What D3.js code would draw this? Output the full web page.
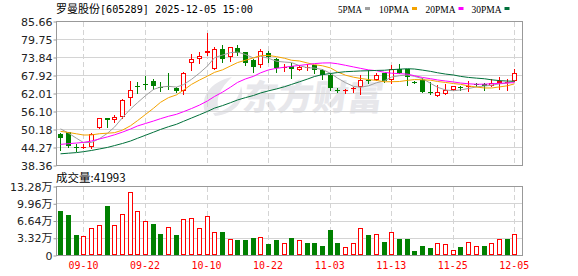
<!DOCTYPE html>
<html lang="zh-CN">
<head>
<meta charset="UTF-8">
<title>罗曼股份[605289] 日K</title>
<script src="https://d3js.org/d3.v7.min.js"></script>
<style>
  html, body { margin: 0; padding: 0; background: #fff; }
  svg { display: block; }
  .axis path { display: none; }
  .axis line { stroke: #999; }
  .axis text { font-family: "DejaVu Sans", "Noto Sans CJK SC", sans-serif; font-size: 11px; fill: #222; }
</style>
</head>
<body>
<script>
// trading days shown (MM-DD)
const dates = ["09-05","09-08","09-09","09-10","09-11","09-12","09-15","09-16","09-17","09-18",
  "09-19","09-22","09-23","09-24","09-25","09-26","09-29","09-30","10-09","10-10",
  "10-13","10-14","10-15","10-16","10-17","10-20","10-21","10-22","10-23","10-24",
  "10-27","10-28","10-29","10-30","10-31","11-03","11-04","11-05","11-06","11-07",
  "11-10","11-11","11-12","11-13","11-14","11-17","11-18","11-19","11-20","11-21",
  "11-24","11-25","11-26","11-27","11-28","12-01","12-02","12-03","12-04","12-05"];

const opens = [48.8,49.3,44.6,44.3,44.4,50.8,53.8,53.4,54.2,60.4,
  64.4,65.1,66.0,64.3,64.6,63.9,62.8,71.9,73.3,75.2,
  70.2,76.5,74.1,77.1,75.5,73.0,71.3,75.4,73.3,70.4,
  71.2,69.8,70.5,71.3,69.8,68.2,63.2,62.8,63.5,64.2,
  66.5,66.6,68.6,66.4,70.0,69.9,65.9,66.6,62.5,61.3,
  62.0,63.1,64.0,64.2,65.2,65.0,64.6,65.3,65.4,66.2];
const highs = [49.0,49.5,45.5,45.3,49.0,53.9,53.9,55.1,60.3,66.0,
  65.8,67.6,66.7,65.8,68.9,64.2,69.0,74.9,75.7,82.0,
  77.4,77.9,77.4,77.9,75.6,73.2,76.6,76.0,73.7,71.6,
  71.9,71.5,71.6,71.4,70.0,68.6,63.7,63.6,64.1,68.0,
  69.7,68.6,68.7,71.3,71.7,70.0,66.2,67.0,65.8,64.7,
  65.0,64.6,64.4,66.1,65.6,65.6,66.9,67.5,66.9,69.9];
const lows = [43.5,44.5,43.0,44.2,44.2,50.7,51.0,52.6,54.0,58.1,
  62.3,63.5,63.6,62.8,63.4,62.4,61.7,69.7,71.9,74.6,
  70.2,72.4,72.7,74.6,71.5,69.1,70.8,72.4,69.1,69.4,
  67.0,69.6,69.7,68.6,66.9,63.1,62.6,62.3,62.6,62.0,
  65.3,66.4,65.8,65.3,68.7,64.7,65.3,62.4,62.0,61.2,
  61.9,63.0,63.3,62.8,64.4,63.3,64.5,63.6,63.0,66.1];
const closes = [47.4,44.7,44.2,44.5,48.8,53.8,53.4,54.4,60.0,63.0,
  64.2,64.9,64.6,64.0,64.2,62.9,68.9,73.3,74.3,75.9,
  76.5,73.2,77.3,75.2,71.9,70.8,76.0,74.0,70.3,70.6,
  70.0,70.8,70.7,69.7,68.2,63.8,63.0,63.1,63.7,66.6,
  66.3,68.0,66.2,69.9,68.9,67.5,65.7,62.5,62.2,62.4,
  63.1,64.4,63.8,64.6,65.0,64.6,65.6,66.1,65.9,68.8];

// 成交量 (股)
const volumes = [86600,77000,40400,37900,53300,59000,96200,59000,80200,122500,
  86000,66700,59700,42300,55200,40400,70600,72500,53300,76400,
  45600,44300,32100,28900,30200,34000,36000,21200,28900,23100,
  34600,28900,23700,25000,19200,50000,23100,16700,23100,53300,
  40400,42300,25600,45600,32700,30800,9600,19200,13500,25000,
  21200,11500,15400,26900,19200,19200,25000,30800,32700,41993];

// moving averages as drawn
const ma5 = [50.4,49.0,47.3,45.9,45.92,47.2,48.94,50.98,54.08,56.92,
  59.0,61.3,63.34,64.14,64.38,64.12,64.92,66.66,68.72,71.06,
  73.78,74.64,75.44,75.62,74.82,73.68,74.24,73.58,72.6,72.34,
  72.18,71.14,70.48,70.36,69.88,68.64,67.08,65.56,64.36,64.04,
  64.54,65.54,66.16,67.4,67.86,68.1,67.64,66.9,65.36,64.06,
  63.18,62.92,63.18,63.66,64.18,64.48,64.72,65.18,65.44,66.2];
const ma10 = [49.58,49.2,48.77,48.37,48.4,48.8,48.97,49.14,49.99,51.42,
  53.1,55.12,57.16,59.11,60.65,61.56,63.11,65.0,66.43,67.72,
  68.95,69.78,71.05,72.17,72.94,73.73,74.44,74.51,74.11,73.58,
  72.93,72.69,72.03,71.48,71.11,70.41,69.11,68.02,67.36,66.96,
  66.59,66.31,65.86,65.88,65.95,66.32,66.59,66.53,66.38,65.96,
  65.64,65.28,65.04,64.51,64.12,63.83,63.82,64.18,64.55,65.19];
const ma20 = [45.3,45.53,45.74,45.96,46.4,47.09,47.76,48.43,49.33,50.33,
  51.34,52.16,52.97,53.74,54.53,55.18,56.04,57.07,58.21,59.57,
  61.03,62.45,64.1,65.64,66.8,67.65,68.78,69.76,70.27,70.65,
  70.94,71.24,71.54,71.83,72.03,72.07,71.78,71.27,70.74,70.27,
  69.76,69.5,68.95,68.68,68.53,68.37,67.85,67.28,66.87,66.46,
  66.12,65.8,65.45,65.2,65.04,65.08,65.2,65.36,65.47,65.58];
const ma30 = [42.2,42.4,42.6,42.9,43.3,43.8,44.3,44.9,45.6,46.4,
  47.3,48.3,49.3,50.2,51.1,51.9,52.87,53.95,55.03,56.13,
  57.21,58.03,58.99,59.88,60.66,61.36,62.17,62.88,63.51,64.24,
  64.99,65.86,66.75,67.59,68.23,68.57,68.89,69.18,69.3,69.42,
  69.49,69.59,69.65,69.84,70.0,70.15,70.05,69.69,69.28,68.83,
  68.39,68.09,67.64,67.29,67.06,66.85,66.51,66.24,66.1,66.04];

const priceTicks = [38.36,44.27,50.18,56.10,62.01,67.92,73.84,79.75,85.66];
const volumeTicks = [0,33200,66400,99600,132800];
const dateTicks = ["09-10","09-22","10-10","10-22","11-03","11-13","11-25","12-05"];

const maNames = ["5PMA","10PMA","20PMA","30PMA"];
const maColors = ["#a0a0a0","#f4a300","#ff00ff","#00703a"];

const RED = "#ff0000", GREEN = "#008000", GRID = "#d4d4d4", BORDER = "#999";
const width = 578, height = 276;
const plot = { left: 56.5, right: 522.5, top: 21.5, bottom: 165.5, volTop: 186.5, volBottom: 255.5 };

const svg = d3.select("body").append("svg")
  .attr("width", width)
  .attr("height", height)
  .style("background", "#fff");

const x = d3.scaleBand().domain(dates).range([56.5, 518.2]);
const col = d => Math.round(x(d) + x.bandwidth() / 2); // pixel column of the day
const y = d3.scaleLinear().domain([priceTicks[0], priceTicks[priceTicks.length - 1]]).range([plot.bottom, plot.top]);
const yv = d3.scaleLinear().domain([0, volumeTicks[volumeTicks.length - 1]]).range([plot.volBottom, plot.volTop]);
const crisp = v => Math.round(v - 0.5) + 0.5;

// watermark
const wm = svg.append("g").attr("fill", "#e7e7eb").attr("transform", "translate(6,0)");
wm.append("path")
  .attr("d", "M199 112 C194 97 204 82 226 77 C214 88 209 99 213 110 Z M207 113 C221 112 233 101 235 86 C240 101 229 114 209 116 Z");
wm.append("text")
  .attr("x", 236).attr("y", 110)
  .attr("transform", "skewX(-8) translate(15,0)")
  .style("font-family", "'Noto Sans CJK SC', sans-serif")
  .style("font-size", "35px")
  .style("font-weight", 900)
  .text("东方财富");

// grid lines
const grid = svg.append("g").attr("stroke", GRID).attr("shape-rendering", "crispEdges");
grid.selectAll(".hp").data(priceTicks.slice(1, -1)).join("line")
  .attr("x1", plot.left).attr("x2", plot.right)
  .attr("y1", d => crisp(y(d))).attr("y2", d => crisp(y(d)));
grid.selectAll(".hv").data(volumeTicks.slice(1, -1)).join("line")
  .attr("x1", plot.left).attr("x2", plot.right)
  .attr("y1", d => crisp(yv(d))).attr("y2", d => crisp(yv(d)));
[[plot.top, plot.bottom], [plot.volTop, plot.volBottom]].forEach(([t, b]) => {
  grid.append("g").selectAll("line").data(dateTicks).join("line")
    .attr("x1", d => col(d) + 0.5).attr("x2", d => col(d) + 0.5)
    .attr("y1", t).attr("y2", b)
    .attr("stroke-dasharray", "5,3");
});

// candles
const days = dates.map((date, i) => ({
  date, open: opens[i], high: highs[i], low: lows[i], close: closes[i],
  volume: volumes[i], prevClose: i ? closes[i - 1] : opens[i]
}));

const candles = svg.append("g").attr("shape-rendering", "crispEdges");
days.forEach(d => {
  const c = col(d.date);
  const up = d.close >= d.open;
  const color = up ? RED : GREEN;
  candles.append("line")
    .attr("x1", c + 0.5).attr("x2", c + 0.5)
    .attr("y1", Math.round(y(d.high))).attr("y2", Math.round(y(d.low)) + 1)
    .attr("stroke", color);
  const top = Math.round(y(Math.max(d.open, d.close)));
  const bot = Math.round(y(Math.min(d.open, d.close)));
  if (up && bot - top >= 2) {
    candles.append("rect")
      .attr("x", c - 1.5).attr("y", top + 0.5)
      .attr("width", 4).attr("height", bot - top - 1)
      .attr("fill", "#fff").attr("stroke", color);
  } else {
    candles.append("rect")
      .attr("x", c - 2).attr("y", top)
      .attr("width", 5).attr("height", Math.max(bot - top, 1))
      .attr("fill", color);
  }
});

// moving average lines
const line = d3.line().x((v, i) => col(dates[i]) + 0.5).y(v => y(v));
[ma5, ma10, ma20, ma30].forEach((series, k) => {
  svg.append("path")
    .attr("d", line(series))
    .attr("fill", "none")
    .attr("stroke", maColors[k])
    .attr("stroke-width", 1);
});

// volume bars (colour by change from previous close)
const vol = svg.append("g").attr("shape-rendering", "crispEdges");
days.forEach(d => {
  const c = col(d.date);
  const top = Math.round(yv(d.volume));
  const base = Math.round(plot.volBottom - 0.5);
  if (d.close > d.prevClose) {
    vol.append("rect")
      .attr("x", c - 1.5).attr("y", top + 0.5)
      .attr("width", 4).attr("height", Math.max(base - top - 1, 0))
      .attr("fill", "#fff").attr("stroke", RED);
  } else {
    vol.append("rect")
      .attr("x", c - 2).attr("y", top)
      .attr("width", 5).attr("height", base - top)
      .attr("fill", GREEN);
  }
});

// frames
const frame = svg.append("g").attr("fill", "none").attr("stroke", BORDER).attr("shape-rendering", "crispEdges");
frame.append("rect").attr("x", plot.left).attr("y", plot.top)
  .attr("width", plot.right - plot.left).attr("height", plot.bottom - plot.top);
frame.append("rect").attr("x", plot.left).attr("y", plot.volTop)
  .attr("width", plot.right - plot.left).attr("height", plot.volBottom - plot.volTop);

// axes
svg.append("g").attr("class", "axis")
  .attr("transform", `translate(${plot.left},0)`)
  .call(d3.axisLeft(y).tickValues(priceTicks).tickSize(3).tickPadding(1).tickFormat(d3.format(".2f")));

svg.append("g").attr("class", "axis")
  .attr("transform", `translate(${plot.left},0)`)
  .call(d3.axisLeft(yv).tickValues(volumeTicks).tickSize(3).tickPadding(1)
    .tickFormat(v => v === 0 ? "0" : (v / 10000).toFixed(2) + "万"));

const xAxis = svg.append("g").attr("class", "axis")
  .attr("transform", `translate(0,${plot.volBottom})`)
  .call(d3.axisBottom(x).tickValues(dateTicks).tickSize(0).tickPadding(6));
xAxis.selectAll("text")
  .style("font-family", "'DejaVu Sans Mono', monospace")
  .style("fill", RED)
  .attr("textLength", 30)
  .attr("lengthAdjust", "spacingAndGlyphs");

// title and labels
svg.append("text")
  .attr("x", 56).attr("y", 13)
  .style("font-family", "'Noto Sans CJK SC', sans-serif").style("font-size", "11px").attr("fill", "#000")
  .text("罗曼股份");
svg.append("text")
  .attr("x", 100).attr("y", 13)
  .attr("textLength", 153).attr("lengthAdjust", "spacingAndGlyphs")
  .style("font-family", "'DejaVu Sans Mono', monospace").style("font-size", "11px").attr("fill", "#000")
  .text("[605289] 2025-12-05 15:00");

svg.append("text")
  .attr("x", 56).attr("y", 181.5)
  .style("font-family", "'Noto Sans CJK SC', sans-serif").style("font-size", "11.5px").attr("fill", "#000")
  .text("成交量:" + volumes[volumes.length - 1]);

// legend
const legendX = [338, 379, 425.5, 471.5];
const legendW = [24, 30, 30, 30];
const legend = svg.append("g");
maNames.forEach((name, k) => {
  legend.append("text")
    .attr("x", legendX[k]).attr("y", 12.5)
    .attr("textLength", legendW[k]).attr("lengthAdjust", "spacingAndGlyphs")
    .style("font-family", "'Liberation Serif', serif").style("font-size", "11px").attr("fill", "#000")
    .text(name);
  legend.append("rect")
    .attr("x", legendX[k] + legendW[k] + 3).attr("y", 7)
    .attr("width", 5).attr("height", 3)
    .attr("fill", maColors[k]);
});
</script>
</body>
</html>
